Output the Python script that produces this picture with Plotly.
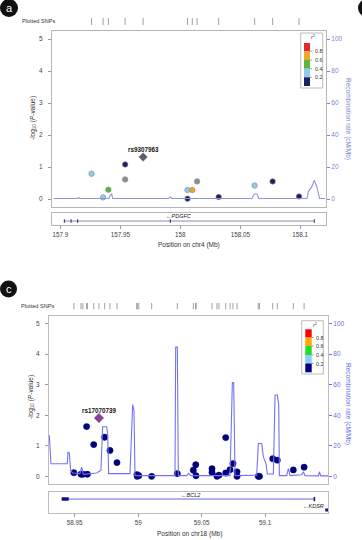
import plotly.graph_objects as go

W, H = 362, 540
def PX(x): return x / W
def PY(y): return 1 - y / H

FONT = "Liberation Sans, Arial, sans-serif"

# ---------------- Panel a data ----------------
a_pos = [157.926, 157.9356, 157.940, 157.954, 157.954, 158.006, 158.010, 158.014,
         158.006, 158.032, 158.062, 158.077, 158.099]
a_logp = [0.79, 0.05, 0.29, 1.08, 0.61, 0.28, 0.28, 0.55, 0.01, 0.06, 0.42, 0.55, 0.08]
a_r2 = [0.3, 0.3, 0.5, 0.1, None, 0.3, 0.7, None, 0.1, 0.1, 0.3, 0.1, 0.1]
a_lead_name, a_lead_pos, a_lead_logp = "rs9307963", 157.969, 1.31
a_rec_pos = [157.89444, 157.91389, 157.91528, 157.91667, 157.94028, 157.94167, 157.94278,
             157.94361, 157.99028, 157.99167, 157.99306, 158.05972, 158.06167, 158.06389,
             158.06556, 158.10556, 158.10694, 158.10972, 158.11167, 158.11389, 158.11611,
             158.12083]
a_rec_rate = [0.3, 0.3, 0.8, 0.3, 0.3, 2.5, 3.1, 0.3, 0.3, 1.3, 0.3, 0.3, 3.1, 3.1,
              0.3, 0.3, 4.8, 7.7, 11.7, 7.7, 0.3, 0.3]
a_gene_name = "PDGFC"
a_gene_start, a_gene_end = 157.9033, 158.1117
a_exons = [157.9033, 157.9089, 157.9144, 157.9917, 158.1117]
a_xticks = [157.9, 157.95, 158.0, 158.05, 158.1]
a_xticktext = ["157.9", "157.95", "158", "158.05", "158.1"]
a_chr = "chr4"

# ---------------- Panel c data ----------------
c_pos = [58.9494, 58.9550, 58.9565, 58.9600, 58.9594, 58.9650, 58.9736, 58.9778, 58.9833,
         58.9990, 58.9992, 59.0005, 59.0106, 59.0308, 59.0434, 59.0453, 59.0455, 59.0581,
         59.0581, 59.0620, 59.0636, 59.0689, 59.0689, 59.0723, 59.0746, 59.0778, 59.0778,
         59.0945, 59.0955, 59.1059, 59.1095, 59.1221, 59.1306]
c_logp = [0.12, 0.07, 0.07, 0.07, 1.63, 1.04, 1.28, 0.85, 0.45, 0.06, 0.0, 0.02, 0.0,
          0.09, 0.20, 0.38, 0.02, 0.25, 0.13, 0.0, 0.04, 1.27, 0.11, 0.22, 0.42, 0.15,
          0.0, 0.0, 0.0, 0.58, 0.53, 0.21, 0.30]
c_r2 = [0.1, 0.1, 0.1, 0.1, 0.1, 0.1, 0.1, 0.1, 0.1, 0.1, 0.1, 0.1, 0.1, 0.1, 0.1, 0.1,
        0.1, 0.1, 0.1, 0.1, 0.1, 0.1, 0.1, 0.1, 0.1, 0.1, 0.1, 0.1, 0.1, 0.1, 0.1, 0.1, 0.1]
c_lead_name, c_lead_pos, c_lead_logp = "rs17070739", 58.9691, 1.91
c_rec_pos = [58.93002, 58.93134, 58.94420, 58.94472, 58.94577, 58.94683, 58.94840,
             58.95417, 58.95549, 58.95680, 58.96730, 58.97070, 58.97202, 58.97517,
             58.97596, 58.97675, 58.99354, 58.99486, 58.99565, 58.99669, 58.99748,
             59.02898, 59.02950, 59.03081, 59.03160, 59.03816, 59.03974, 59.04131,
             59.07228, 59.07412, 59.07517, 59.07622, 59.09328, 59.09459, 59.09722,
             59.09853, 59.10063, 59.10168, 59.10640, 59.10772, 59.10955, 59.11061,
             59.11113, 59.11690, 59.11821, 59.11953, 59.12872, 59.13002, 59.13134,
             59.14183, 59.14262, 59.14368, 59.14971]
c_rec_rate = [27.0, 8.3, 8.3, 15.8, 15.4, 3.9, 2.2, 1.8, 6.0, 1.3, 2.2, 4.0, 32.5, 32.5,
              28.0, 1.8, 1.8, 28.0, 47.0, 43.0, 0.5, 0.5, 84.6, 84.6, 0.5, 0.5, 2.0, 0.5,
              0.5, 61.4, 61.4, 0.5, 0.7, 21.5, 21.5, 12.7, 8.0, 1.5, 1.5, 53.3, 53.3,
              46.7, 0.5, 0.5, 5.0, 0.5, 1.0, 3.0, 0.5, 0.3, 3.0, 0.3, 0.3]
c_gene_name = "BCL2"
c_gene_start, c_gene_end = 58.9398, 59.1387
c_exon_thick = [58.9398, 58.9453]
c_gene2_name = "KDSR"
c_gene2_pos = 59.1484
c_xticks = [58.95, 59.0, 59.05, 59.1]
c_xticktext = ["58.95", "59", "59.05", "59.1"]
c_chr = "chr18"

legend_labels = ["0.8", "0.6", "0.4", "0.2"]

# ---------------- styles per panel ----------------
PAL_A = {"navy": "#1e1e66", "lb": "#8ecbea", "green": "#5db53a", "orange": "#f2a52a",
         "red": "#e2262a", "gray": "#8e8e8e"}
PAL_C = {"navy": "#000080", "lb": "#87cefa", "green": "#1fe01f", "orange": "#ffa500",
         "red": "#ff0000", "gray": "#8e8e8e"}


def r2col(r, pal):
    if r is None:
        return pal["gray"]
    if r >= 0.8:
        return pal["red"]
    if r >= 0.6:
        return pal["orange"]
    if r >= 0.4:
        return pal["green"]
    if r >= 0.2:
        return pal["lb"]
    return pal["navy"]


fig = go.Figure()
shapes = []
annots = []


def panel(pos, logp, r2, lead, rec_pos, rec_rate, pal, rec_color, lead_color,
          xa, ya, yrec, xg, yg, ysnp, msize, mline):
    name, lpos, llogp = lead
    fig.add_trace(go.Scatter(x=rec_pos, y=rec_rate, xaxis=xa, yaxis=yrec, mode="lines",
                             line=dict(color=rec_color, width=1.1), hoverinfo="skip"))
    fig.add_trace(go.Scatter(x=pos, y=logp, xaxis=xa, yaxis=ya, mode="markers",
                             marker=dict(size=msize, color=[r2col(r, pal) for r in r2],
                                         line=mline)))
    fig.add_trace(go.Scatter(x=[lpos], y=[llogp], xaxis=xa, yaxis=ya, mode="markers",
                             marker=dict(size=msize + 1, symbol="diamond", color=lead_color,
                                         line=dict(color="#666666", width=0.5))))
    annots.append(dict(x=lpos, y=llogp, xref=xa, yref=ya, text="<b>%s</b>" % name,
                       showarrow=False, yshift=8, font=dict(size=6.3, color="#111", family=FONT)))
    tx, ty = [], []
    for p in sorted(set(list(pos) + [lpos])):
        tx += [p, p, None]
        ty += [0, 1, None]
    fig.add_trace(go.Scatter(x=tx, y=ty, xaxis=xa, yaxis=ysnp, mode="lines",
                             line=dict(color="#777777", width=0.7), hoverinfo="skip"))


panel(a_pos, a_logp, a_r2, (a_lead_name, a_lead_pos, a_lead_logp), a_rec_pos, a_rec_rate,
      PAL_A, "#8b97d8", "#5c5c6c", "x", "y", "y2", "x2", "y3", "y4", 5.5,
      dict(color="#888888", width=0.6))
panel(c_pos, c_logp, c_r2, (c_lead_name, c_lead_pos, c_lead_logp), c_rec_pos, c_rec_rate,
      PAL_C, "#7373f2", "#8e3f9e", "x3", "y5", "y6", "x4", "y7", "y8", 6.3,
      dict(color="#000060", width=0.4))

# ---- gene panel a ----
fig.add_trace(go.Scatter(x=[a_gene_start, a_gene_end], y=[0.33, 0.33], xaxis="x2", yaxis="y3",
                         mode="lines", line=dict(color="#6a6aa8", width=0.8), hoverinfo="skip"))
ex, ey = [], []
for e in a_exons:
    ex += [e, e, None]
    ey += [0.18, 0.48, None]
fig.add_trace(go.Scatter(x=ex, y=ey, xaxis="x2", yaxis="y3", mode="lines",
                         line=dict(color="#2a2a7a", width=1), hoverinfo="skip"))
annots.append(dict(x=(a_gene_start + a_gene_end) / 2 - 0.009, y=0.72, xref="x2", yref="y3",
                   text="\u2190<i>%s</i>" % a_gene_name, showarrow=False,
                   font=dict(size=5.5, color="#222", family=FONT)))

# ---- gene panel c ----
fig.add_trace(go.Scatter(x=[c_gene_start, c_gene_end], y=[0.66, 0.66], xaxis="x4", yaxis="y7",
                         mode="lines", line=dict(color="#5555dd", width=0.9), hoverinfo="skip"))
fig.add_trace(go.Scatter(x=c_exon_thick, y=[0.66, 0.66], xaxis="x4", yaxis="y7",
                         mode="lines", line=dict(color="#101080", width=3.5), hoverinfo="skip"))
fig.add_trace(go.Scatter(x=[c_gene_end, c_gene_end], y=[0.56, 0.76], xaxis="x4", yaxis="y7",
                         mode="lines", line=dict(color="#101080", width=1.5), hoverinfo="skip"))
fig.add_trace(go.Scatter(x=[c_gene2_pos], y=[0.15], xaxis="x4", yaxis="y7", mode="markers",
                         marker=dict(symbol="square", size=3, color="#101080"), hoverinfo="skip"))
annots.append(dict(x=(c_gene_start + c_gene_end) / 2 + 0.002, y=0.86, xref="x4", yref="y7",
                   text="\u2190<i>%s</i>" % c_gene_name, showarrow=False,
                   font=dict(size=5.5, color="#222", family=FONT)))
annots.append(dict(x=c_gene2_pos - 0.0106, y=0.33, xref="x4", yref="y7",
                   text="\u2190<i>%s</i>" % c_gene2_name, showarrow=False,
                   font=dict(size=5.5, color="#222", family=FONT)))

# ---------------- axes ----------------
def xmain(dom, rng, anchor, lc):
    return dict(domain=dom, range=rng, anchor=anchor, showticklabels=False, ticks="",
                showline=True, mirror=True, linecolor=lc, linewidth=1, showgrid=False,
                zeroline=False, fixedrange=True)


def ymain(dom, anchor, lc):
    return dict(domain=dom, range=[-0.25, 5.25], anchor=anchor, tickvals=[0, 1, 2, 3, 4, 5],
                ticks="outside", ticklen=3, tickcolor="#999", tickwidth=0.8,
                ticklabelstandoff=4,
                tickfont=dict(size=6.5, color="#444", family=FONT), showline=True,
                mirror=True, linecolor=lc, linewidth=1, showgrid=False, zeroline=False)


def yrec(over, anchor, col):
    return dict(overlaying=over, side="right", anchor=anchor, range=[-5, 105],
                tickvals=[0, 20, 40, 60, 80, 100], ticks="outside", ticklen=3,
                tickcolor=col, tickwidth=0.8, tickfont=dict(size=6.5, color=col, family=FONT),
                showline=False, showgrid=False, zeroline=False)


def xgene(dom, rng, anchor, ticks, text, lc):
    return dict(domain=dom, range=rng, anchor=anchor, tickvals=ticks, ticktext=text,
                ticks="outside", ticklen=3, tickcolor="#999", tickwidth=0.8,
                tickfont=dict(size=6.3, color="#444", family=FONT), showline=True,
                mirror=True, linecolor=lc, linewidth=1, showgrid=False, zeroline=False)


def ygene(dom, anchor, lc):
    return dict(domain=dom, range=[0, 1], anchor=anchor, showticklabels=False, ticks="",
                showline=True, mirror=True, linecolor=lc, linewidth=1, showgrid=False,
                zeroline=False)


def yhide(dom, anchor):
    return dict(domain=dom, range=[0, 1], anchor=anchor, visible=False)


a_xr = [157.893, 158.1215]
c_xr = [58.9298, 59.1494]
LCA, LCC = "#b5b5b5", "#bdbdbd"
a_dx = [PX(52), PX(326)]
c_dx = [PX(49), PX(328)]

layout_axes = dict(
    xaxis=xmain(a_dx, a_xr, "y", LCA),
    yaxis=ymain([PY(207), PY(31)], "x", LCA),
    yaxis2=yrec("y", "x", "#7c86cc"),
    xaxis2=xgene(a_dx, a_xr, "y3", a_xticks, a_xticktext, LCA),
    yaxis3=ygene([PY(225), PY(213)], "x2", LCA),
    yaxis4=yhide([PY(25), PY(18)], "x"),
    xaxis3=xmain(c_dx, c_xr, "y5", LCC),
    yaxis5=ymain([PY(484), PY(316)], "x3", LCC),
    yaxis6=yrec("y5", "x3", "#6b6bea"),
    xaxis4=xgene(c_dx, c_xr, "y7", c_xticks, c_xticktext, LCC),
    yaxis7=ygene([PY(513.3), PY(491.7)], "x4", LCC),
    yaxis8=yhide([PY(309.5), PY(303)], "x3"),
)

# ---------------- legends (r2 keys) ----------------
def r2legend(box, bar_x, edges, pal, lab_x, r2y):
    x0, x1, y0, y1 = box
    shapes.append(dict(type="rect", xref="paper", yref="paper", x0=PX(x0), x1=PX(x1),
                       y0=PY(y1), y1=PY(y0), line=dict(color="#aaaaaa", width=0.8),
                       fillcolor="white", layer="above"))
    cols = [pal["red"], pal["orange"], pal["green"], pal["lb"], pal["navy"]]
    for i, c in enumerate(cols):
        shapes.append(dict(type="rect", xref="paper", yref="paper", x0=PX(bar_x[0]),
                           x1=PX(bar_x[1]), y0=PY(edges[i + 1]), y1=PY(edges[i]),
                           line=dict(width=0), fillcolor=c, layer="above"))
    for i, lab in enumerate(legend_labels):
        yy = edges[i + 1]
        shapes.append(dict(type="line", xref="paper", yref="paper", x0=PX(bar_x[1]),
                           x1=PX(bar_x[1] + 1.8), y0=PY(yy), y1=PY(yy),
                           line=dict(color="#555", width=0.6), layer="above"))
        annots.append(dict(x=PX(lab_x), y=PY(yy), xref="paper", yref="paper", text=lab,
                           xanchor="left", yanchor="middle", showarrow=False,
                           font=dict(size=5.3, color="#333", family=FONT)))
    annots.append(dict(x=PX((bar_x[1] + x1) / 2 + 1), y=PY(r2y), xref="paper", yref="paper",
                       text="<i>r</i><sup>2</sup>", showarrow=False, yanchor="middle",
                       font=dict(size=5.5, color="#333", family=FONT)))


r2legend((300.7, 322.7, 33, 88), (304, 310), [43, 51.3, 60, 68.7, 77.3, 86], PAL_A, 312.5, 37)
r2legend((301.7, 323.3, 320.7, 374), (305.3, 311.7), [329.3, 337.5, 346, 355, 363.5, 372.3],
         PAL_C, 313.5, 324.5)

# ---------------- titles & labels ----------------
def txt(x, y, s, size=6.5, color="#222", angle=0, xanchor="center"):
    annots.append(dict(x=PX(x), y=PY(y), xref="paper", yref="paper", text=s, showarrow=False,
                       textangle=angle, xanchor=xanchor, yanchor="middle",
                       font=dict(size=size, color=color, family=FONT)))


ylab = "-log<sub>10</sub> (<i>P</i>-value)"
txt(33, 118, ylab, angle=-90, color="#333")
txt(31, 397, ylab, angle=-90, color="#333")
txt(348, 119, "Recombination rate (cM/Mb)", angle=90, color="#7c86cc")
txt(348, 404, "Recombination rate (cM/Mb)", angle=90, color="#6b6bea")
txt(189, 245, "Position on %s (Mb)" % a_chr, color="#333")
txt(189, 534, "Position on %s (Mb)" % c_chr, color="#333")
txt(20, 20.5, "Plotted SNPs", size=5.6, color="#333", xanchor="left")
txt(19, 306.5, "Plotted SNPs", size=5.6, color="#333", xanchor="left")

# panel badges
for (cx, cy, r, lab) in [(9, 8, 9, "a"), (8.5, 289, 8.5, "c"), (367, 8, 9, "")]:
    shapes.append(dict(type="circle", xref="paper", yref="paper", x0=PX(cx - r), x1=PX(cx + r),
                       y0=PY(cy + r), y1=PY(cy - r), fillcolor="#111", line=dict(width=0)))
    if lab:
        txt(cx, cy, lab, size=11, color="white")

fig.update_layout(
    width=W, height=H, margin=dict(l=0, r=0, t=0, b=0), showlegend=False,
    paper_bgcolor="white", plot_bgcolor="white", shapes=shapes, annotations=annots,
    font=dict(family=FONT), **layout_axes)

fig.write_html("out.html")
